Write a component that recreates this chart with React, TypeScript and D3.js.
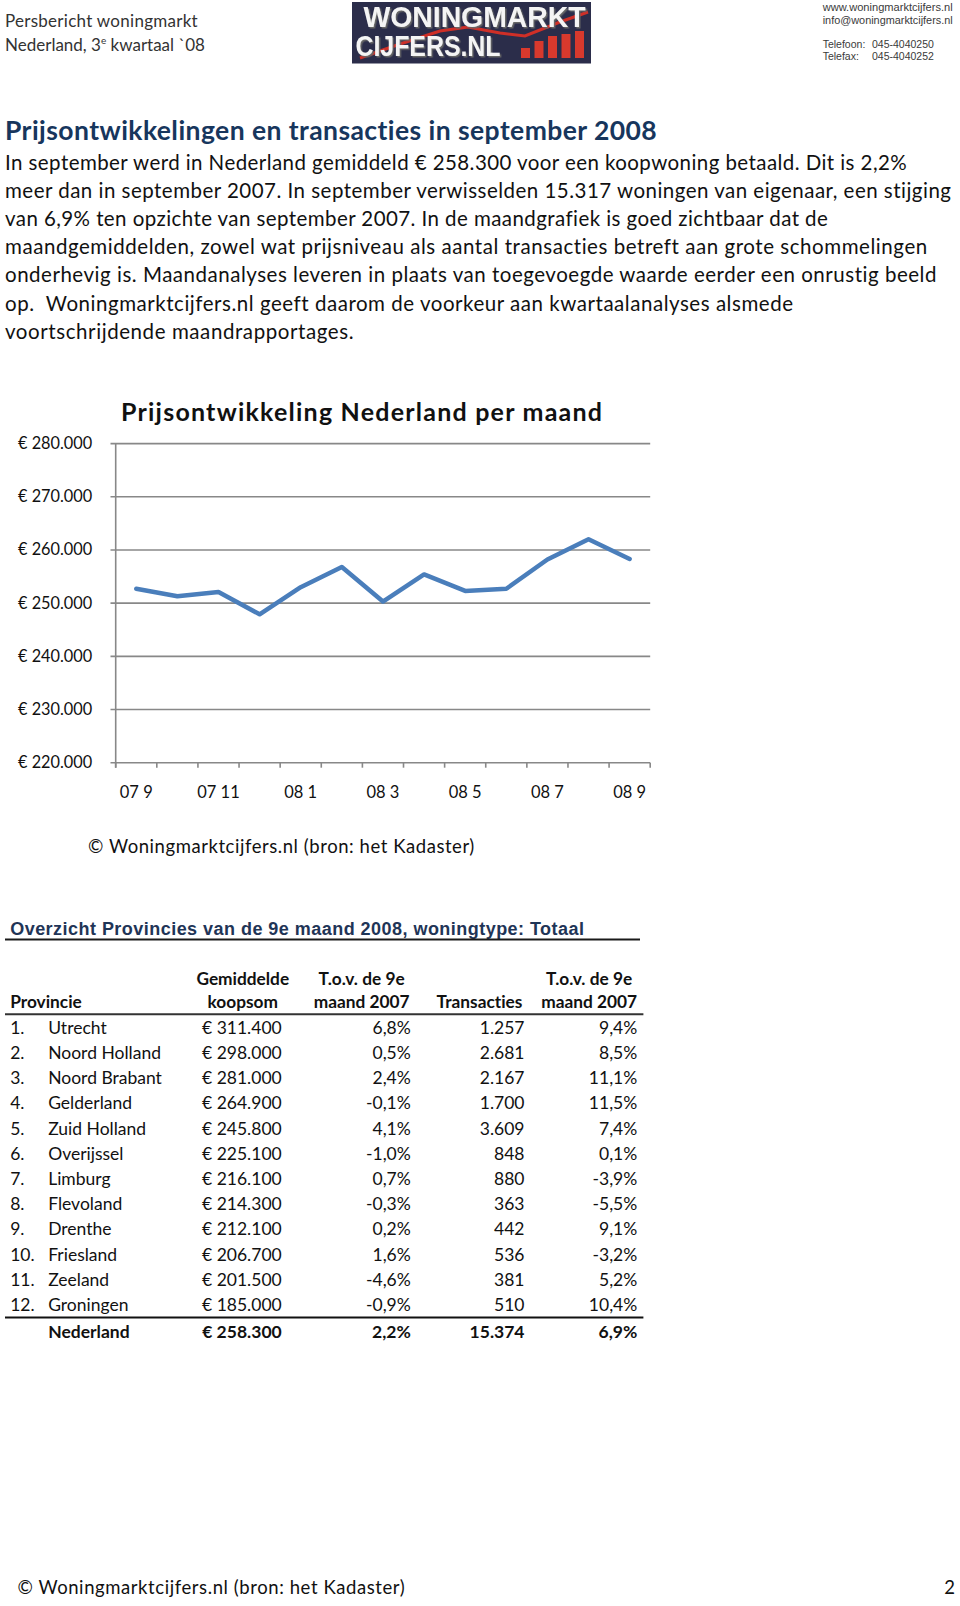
import React from "react";
import * as d3 from "d3";

// ---------- DATA ----------
const months = ["07 9", "07 10", "07 11", "07 12", "08 1", "08 2", "08 3", "08 4", "08 5", "08 6", "08 7", "08 8", "08 9"];
const prices = [252700, 251300, 252100, 247900, 253000, 256800, 250300, 255400, 252300, 252700, 258200, 262000, 258300];
const yTicks = [220000, 230000, 240000, 250000, 260000, 270000, 280000];

const paragraphLines = [
  "In september werd in Nederland gemiddeld € 258.300 voor een koopwoning betaald. Dit is 2,2%",
  "meer dan in september 2007. In september verwisselden 15.317 woningen van eigenaar, een stijging",
  "van 6,9% ten opzichte van september 2007. In de maandgrafiek is goed zichtbaar dat de",
  "maandgemiddelden, zowel wat prijsniveau als aantal transacties betreft aan grote schommelingen",
  "onderhevig is. Maandanalyses leveren in plaats van toegevoegde waarde eerder een onrustig beeld",
  "op.\u00a0 Woningmarktcijfers.nl geeft daarom de voorkeur aan kwartaalanalyses alsmede",
  "voortschrijdende maandrapportages.",
];

const provinces = ["Utrecht", "Noord Holland", "Noord Brabant", "Gelderland", "Zuid Holland", "Overijssel", "Limburg", "Flevoland", "Drenthe", "Friesland", "Zeeland", "Groningen"];
const koopsom = [311400, 298000, 281000, 264900, 245800, 225100, 216100, 214300, 212100, 206700, 201500, 185000];
const tovKoopsom = [6.8, 0.5, 2.4, -0.1, 4.1, -1.0, 0.7, -0.3, 0.2, 1.6, -4.6, -0.9];
const transacties = [1257, 2681, 2167, 1700, 3609, 848, 880, 363, 442, 536, 381, 510];
const tovTransacties = [9.4, 8.5, 11.1, 11.5, 7.4, 0.1, -3.9, -5.5, 9.1, -3.2, 5.2, 10.4];
const totalName = "Nederland";
const totalKoopsom = 258300;
const totalTovKoopsom = 2.2;
const totalTransacties = 15374;
const totalTovTransacties = 6.9;

// ---------- LAYOUT ----------
const W = 960;
const H = 1606;
const paraEnds = [906.7, 951, 827.8, 927.2, 936.4, 793, 353.5];
const FONT = "Lato, 'Open Sans', sans-serif";
const ARIAL = "'Liberation Sans', Arial, sans-serif";
const noLig = { fontVariantLigatures: "none" as const, whiteSpace: "pre" as const };

const nl = d3.formatLocale({ decimal: ",", thousands: ".", grouping: [3], currency: ["€ ", ""], minus: "-" });
const fInt = nl.format(",");
const fPct = (v: number) => nl.format(".1f")(v) + "%";
const fEur = (v: number) => "€ " + fInt(v);

export default function App() {
  const x = d3.scaleBand<string>().domain(months).range([115.7, 650.2]).paddingInner(0).paddingOuter(0);
  const y = d3.scaleLinear().domain([220000, 280000]).range([762.7, 443.6]);
  const cx = (m: string) => (x(m) as number) + x.bandwidth() / 2;
  const line = d3
    .line<number>()
    .x((_, i) => cx(months[i]))
    .y((d) => y(d));
  const tickXs = months.map((m) => x(m) as number).concat([650.2]);

  const rowY = d3.scaleLinear().domain([0, 11]).range([1033.6, 1311.2]);

  const cols = {
    rank: 10.2,
    name: 48.2,
    koop: 281.7,
    tov1: 410.8,
    trans: 524.5,
    tov2: 637.3,
  };

  return (
    <div style={{ position: "absolute", left: 0, top: 0 }}>
      <svg width={W} height={H} viewBox={`0 0 ${W} ${H}`} style={{ display: "block", background: "#fff", ...noLig }}>
        <defs>
          <filter id="logoShadow" x="-5%" y="-20%" width="110%" height="140%">
            <feDropShadow dx={1.5} dy={1.5} stdDeviation={0.6} floodColor="#666" floodOpacity={1} />
          </filter>
        </defs>
        <rect x={0} y={0} width={W} height={H} fill="#fff" />

        {/* Header left */}
        <text x={5} y={27} fontFamily={FONT} fontSize={17} fill="#333" textLength={192.7} lengthAdjust="spacing">
          Persbericht woningmarkt
        </text>
        <text x={5} y={50.5} fontFamily={FONT} fontSize={17} fill="#333">
          Nederland, 3
          <tspan dy={-7} fontSize={10}>e</tspan>
          <tspan dy={7}> kwartaal `08</tspan>
        </text>

        {/* Logo */}
        <g>
          <rect x={352} y={2} width={239} height={61.5} fill="#2b2d4a" />
          <polyline points="360,58 400,44 440,31 468,27 500,33 525,36 560,22 588,12" fill="none" stroke="#cf2f27" strokeWidth={3} />
          {[0, 1, 2, 3, 4].map((i) => {
            const hs = [10, 17, 22, 24, 27];
            return <rect key={i} x={521 + i * 13.5} y={58 - hs[i]} width={9} height={hs[i]} fill="#d8392d" />;
          })}
          <g filter="url(#logoShadow)" fontFamily={ARIAL} fontWeight="bold" fontSize={29} fill="#f4f4f4">
            <text x={363.5} y={26.5} textLength={222} lengthAdjust="spacingAndGlyphs">WONINGMARKT</text>
            <text x={355.5} y={55.5} textLength={145} lengthAdjust="spacingAndGlyphs">CIJFERS.NL</text>
          </g>
        </g>

        {/* Header right */}
        <g fontFamily={ARIAL} fontSize={10.5} fill="#3a3a3a">
          <text x={822.7} y={11} textLength={130} lengthAdjust="spacingAndGlyphs">www.woningmarktcijfers.nl</text>
          <text x={822.7} y={23.5} textLength={130} lengthAdjust="spacingAndGlyphs">info@woningmarktcijfers.nl</text>
          <text x={822.7} y={48}>Telefoon:</text>
          <text x={872} y={48}>045-4040250</text>
          <text x={822.7} y={60}>Telefax:</text>
          <text x={872} y={60}>045-4040252</text>
        </g>

        {/* Heading */}
        <text x={5} y={140} fontFamily={FONT} fontWeight="bold" fontSize={26.5} fill="#17365d" textLength={651.7} lengthAdjust="spacing">
          Prijsontwikkelingen en transacties in september 2008
        </text>
        {paragraphLines.map((l, i) => (
          <text key={i} x={5} y={169.5 + i * 28.2} fontFamily={FONT} fontSize={20.5} fill="#111" textLength={paraEnds[i] - 5} lengthAdjust="spacing">
            {l}
          </text>
        ))}

        {/* Chart */}
        <text x={121} y={421} fontFamily={FONT} fontWeight="bold" fontSize={25} fill="#111" textLength={481} lengthAdjust="spacing">
          Prijsontwikkeling Nederland per maand
        </text>
        {yTicks.map((t) => (
          <g key={t}>
            <line x1={110.5} x2={650.2} y1={y(t)} y2={y(t)} stroke="#888" strokeWidth={1.6} />
            <text x={92.2} y={y(t) + 5.5} textAnchor="end" fontFamily={FONT} fontSize={16.3} fill="#111">
              {fEur(t)}
            </text>
          </g>
        ))}
        <line x1={115.7} x2={115.7} y1={y(280000)} y2={y(220000) + 5} stroke="#888" strokeWidth={1.6} />
        {tickXs.map((tx, i) => (
          <line key={i} x1={tx} x2={tx} y1={y(220000)} y2={y(220000) + 5} stroke="#888" strokeWidth={1.6} />
        ))}
        {months.map((m, i) =>
          i % 2 === 0 ? (
            <text key={m} x={cx(m)} y={798} textAnchor="middle" fontFamily={FONT} fontSize={16.5} fill="#111">
              {m}
            </text>
          ) : null
        )}
        <path d={line(prices) || ""} fill="none" stroke="#4a7ebb" strokeWidth={4.5} strokeLinejoin="round" strokeLinecap="round" />
        <text x={88} y={853} fontFamily={FONT} fontSize={18.5} fill="#111" textLength={386.3} lengthAdjust="spacing">
          © Woningmarktcijfers.nl (bron: het Kadaster)
        </text>

        {/* Table */}
        <text x={10.2} y={934.5} fontFamily={ARIAL} fontWeight="bold" fontSize={18} fill="#1f3557" textLength={573.8} lengthAdjust="spacing">
          Overzicht Provincies van de 9e maand 2008, woningtype: Totaal
        </text>
        <line x1={5} x2={640} y1={939.5} y2={939.5} stroke="#1a1a1a" strokeWidth={2} />

        <g fontFamily={FONT} fontWeight="bold" fontSize={17.3} fill="#111">
          <text x={242.8} y={984.5} textAnchor="middle">Gemiddelde</text>
          <text x={242.8} y={1008} textAnchor="middle">koopsom</text>
          <text x={361.6} y={984.5} textAnchor="middle">T.o.v. de 9e</text>
          <text x={361.6} y={1008} textAnchor="middle">maand 2007</text>
          <text x={479.5} y={1008} textAnchor="middle">Transacties</text>
          <text x={589.1} y={984.5} textAnchor="middle">T.o.v. de 9e</text>
          <text x={589.1} y={1008} textAnchor="middle">maand 2007</text>
          <text x={10.2} y={1008}>Provincie</text>
        </g>
        <line x1={5} x2={643.4} y1={1014.3} y2={1014.3} stroke="#333" strokeWidth={2} />

        <g fontFamily={FONT} fontSize={17.5} fill="#111">
          {provinces.map((p, i) => (
            <g key={p}>
              <text x={cols.rank} y={rowY(i)}>{`${i + 1}.`}</text>
              <text x={cols.name} y={rowY(i)}>{p}</text>
              <text x={cols.koop} y={rowY(i)} textAnchor="end">{fEur(koopsom[i])}</text>
              <text x={cols.tov1} y={rowY(i)} textAnchor="end">{fPct(tovKoopsom[i])}</text>
              <text x={cols.trans} y={rowY(i)} textAnchor="end">{fInt(transacties[i])}</text>
              <text x={cols.tov2} y={rowY(i)} textAnchor="end">{fPct(tovTransacties[i])}</text>
            </g>
          ))}
        </g>
        <line x1={5} x2={643.4} y1={1317.5} y2={1317.5} stroke="#111" strokeWidth={2} />
        <g fontFamily={FONT} fontWeight="bold" fontSize={17.5} fill="#111">
          <text x={cols.name} y={1338}>{totalName}</text>
          <text x={cols.koop} y={1338} textAnchor="end">{fEur(totalKoopsom)}</text>
          <text x={cols.tov1} y={1338} textAnchor="end">{fPct(totalTovKoopsom)}</text>
          <text x={cols.trans} y={1338} textAnchor="end">{fInt(totalTransacties)}</text>
          <text x={cols.tov2} y={1338} textAnchor="end">{fPct(totalTovTransacties)}</text>
        </g>

        {/* Footer */}
        <text x={17.4} y={1594} fontFamily={FONT} fontSize={18.5} fill="#111" textLength={387.3} lengthAdjust="spacing">
          © Woningmarktcijfers.nl (bron: het Kadaster)
        </text>
        <text x={955} y={1594} textAnchor="end" fontFamily={FONT} fontSize={18.5} fill="#111">2</text>
      </svg>
    </div>
  );
}
